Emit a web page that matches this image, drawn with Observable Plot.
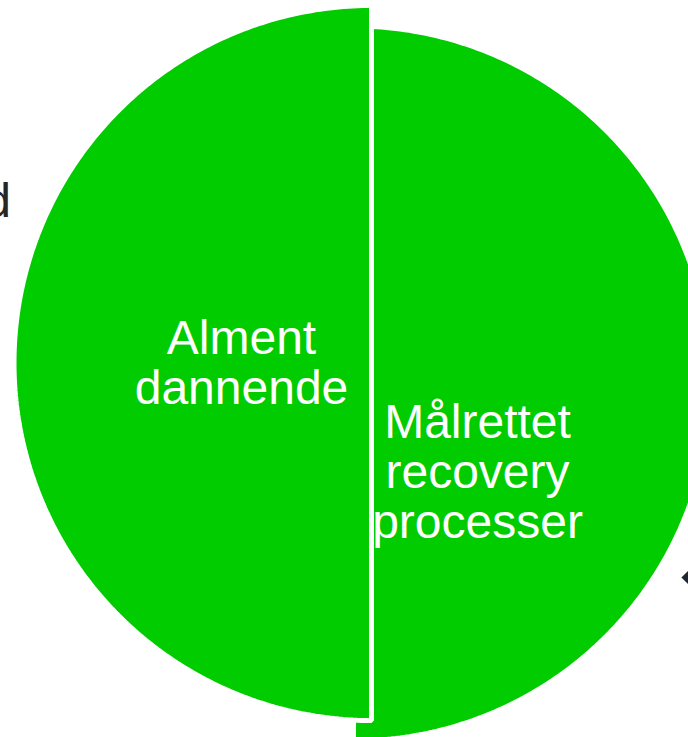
<!DOCTYPE html>
<html>
<head>
<meta charset="utf-8">
<script src="https://cdn.jsdelivr.net/npm/d3@7"></script>
<script src="https://cdn.jsdelivr.net/npm/@observablehq/plot@0.6"></script>
<style>
  html, body { margin: 0; padding: 0; background: #ffffff; overflow: hidden; }
  #chart svg { display: block; }
</style>
</head>
<body>
<div id="chart"></div>
<script>
// ---- data ----
const categories = ["Målrettet recovery processer", "Alment dannende"];
const labelLines = [["Målrettet", "recovery", "processer"], ["Alment", "dannende"]];
const shares = [50, 50];
const sliceColors = ["#00cc00", "#00cc00"];
const strayTexts = ["d"];           // cut-off text fragment at the left edge
const strayMarks = ["marker"];      // cut-off dark marker at the right edge

// ---- layout (pixels) ----
const W = 688, H = 737;
const R = 357.5;                     // pie radius in px = 1 unit (stroke eats 2.5px)
const center = [362, 372.75];        // pie center in px
const explodePx = [[-9, 10.25], [9, -10.25]];        // per slice shift (px, screen down +)
const labelOffsetPx = [[124, 88.6], [-130, 0]];      // label block centre relative to slice centre
const strayTextPx = [[10.5, 201.6]];
const strayMarkPx = [[688, 577]];

const toUnits = ([px, py]) => [(px - center[0]) / R, (center[1] - py) / R];

// ---- geometry through d3.pie ----
const arcs = d3.pie().sort(null).value(d => d)(shares);
const slices = arcs.map((a, i) => {
  const ox = explodePx[i][0] / R, oy = -explodePx[i][1] / R;
  const pts = [{x: ox, y: oy, slice: categories[i]}];
  const n = 240;
  for (let k = 0; k <= n; k++) {
    const t = a.startAngle + (a.endAngle - a.startAngle) * k / n;
    pts.push({x: ox + Math.sin(t), y: oy + Math.cos(t), slice: categories[i]});
  }
  return pts;
});
const labels = arcs.map((a, i) => {
  const ox = (explodePx[i][0] + labelOffsetPx[i][0]) / R;
  const oy = -(explodePx[i][1] + labelOffsetPx[i][1]) / R;
  return {x: ox, y: oy, text: labelLines[i].join("\n")};
});
const strays = strayTexts.map((t, i) => { const [x, y] = toUnits(strayTextPx[i]); return {x, y, text: t}; });
const marks = strayMarks.map((t, i) => { const [x, y] = toUnits(strayMarkPx[i]); return {x, y}; });

const xDomain = [-center[0] / R, (W - center[0]) / R];
const yDomain = [(center[1] - H) / R, center[1] / R];

const chart = Plot.plot({
  width: W,
  height: H,
  margin: 0,
  style: {background: "#ffffff", overflow: "hidden"},
  x: {domain: xDomain, range: [0, W], axis: null},
  y: {domain: yDomain, range: [H, 0], axis: null},
  marks: [
    ...slices.map((pts, i) => Plot.line(pts, {
      x: "x", y: "y", curve: "linear-closed",
      fill: sliceColors[i], stroke: "#ffffff", strokeWidth: 5, strokeLinejoin: "miter"
    })),
    Plot.text(labels, {
      x: "x", y: "y", text: "text", fill: "#ffffff",
      fontSize: 48, fontFamily: "Liberation Sans, Arial, sans-serif",
      lineHeight: 1.04, textAnchor: "middle"
    }),
    Plot.text(strays, {
      x: "x", y: "y", text: "text", fill: "#262626",
      fontSize: 48, fontFamily: "Liberation Sans, Arial, sans-serif", textAnchor: "end"
    }),
    Plot.dot(marks, {x: "x", y: "y", symbol: "diamond2", r: 6.4, fill: "#1f2733", stroke: null})
  ]
});
document.getElementById("chart").appendChild(chart);
</script>
</body>
</html>
